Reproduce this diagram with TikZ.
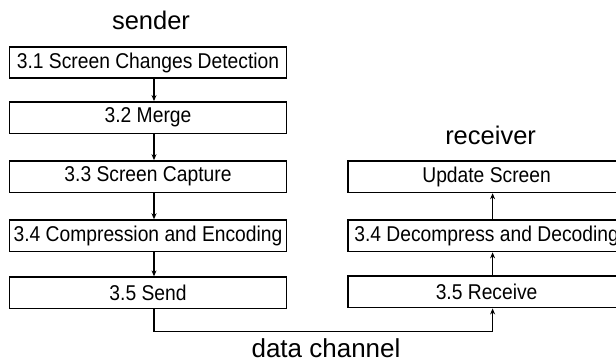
\documentclass[tikz,border=0pt]{standalone}
\usepackage{fontspec}
\setmainfont{Liberation Sans}
\newfontfamily\boxfont[FakeStretch=0.9]{Liberation Sans}
\usetikzlibrary{arrows.meta,positioning}
\tikzset{
  rdnode/.style={
    rectangle, draw=black, line width=1.6pt,
    minimum width=277pt, minimum height=31.5pt,
    align=center, inner sep=0pt, font=\boxfont\fontsize{21.4}{24}\selectfont
  },
  rdarrow/.style={-{Stealth[length=6pt,width=5pt]}, line width=1.2pt, draw=black},
  rdtitle/.style={font=\fontsize{25.5}{28}\selectfont, inner sep=2pt},
}

\begin{document}
\begin{tikzpicture}[x=1pt, y=1pt]
  \clip (0,0) rectangle (616,-361);
  % sender side
  \node (s1) [rdnode] at (148,-62.5) {3.1 Screen Changes Detection};
  \node (s2) [rdnode, below=22pt of s1] {3.2 Merge};
  \node (s3) [rdnode, below=26pt of s2] {3.3 Screen Capture};
  \node (s4) [rdnode, below=26pt of s3] {3.4 Compression and Encoding};
  \node (s5) [rdnode, below=24pt of s4] {3.5 Send};
  \node (snd) [rdtitle, above=14pt of s1, xshift=3pt] {sender};
  % receiver side
  \node (r1) [rdnode, right=60pt of s3] {Update Screen};
  \node (r2) [rdnode, right=60pt of s4] {3.4 Decompress and Decoding};
  \node (r3) [rdnode, right=60pt of s5, yshift=1pt] {3.5 Receive};
  \node (rcv) [rdtitle, above=13pt of r1, xshift=4pt] {receiver};
  % arrows
  \draw[rdarrow] ([xshift=6pt]s1.south) -- ([xshift=6pt]s2.north);
  \draw[rdarrow] ([xshift=6pt]s2.south) -- ([xshift=6pt]s3.north);
  \draw[rdarrow] ([xshift=6pt]s3.south) -- ([xshift=6pt]s4.north);
  \draw[rdarrow] ([xshift=6pt]s4.south) -- ([xshift=6pt]s5.north);
  \draw[rdarrow] ([xshift=6pt]r3.north) -- ([xshift=6pt]r2.south);
  \draw[rdarrow] ([xshift=6pt]r2.north) -- ([xshift=6pt]r1.south);
  % data channel
  \coordinate (c1) at ([xshift=6pt, yshift=-22pt]s5.south);
  \draw[rdarrow] ([xshift=6pt]s5.south) -- (c1) -| ([xshift=6pt]r3.south);
  \node (chan) [rdtitle, font=\fontsize{26}{28}\selectfont, below=5pt of c1, xshift=172pt] {data channel};
\end{tikzpicture}
\end{document}
